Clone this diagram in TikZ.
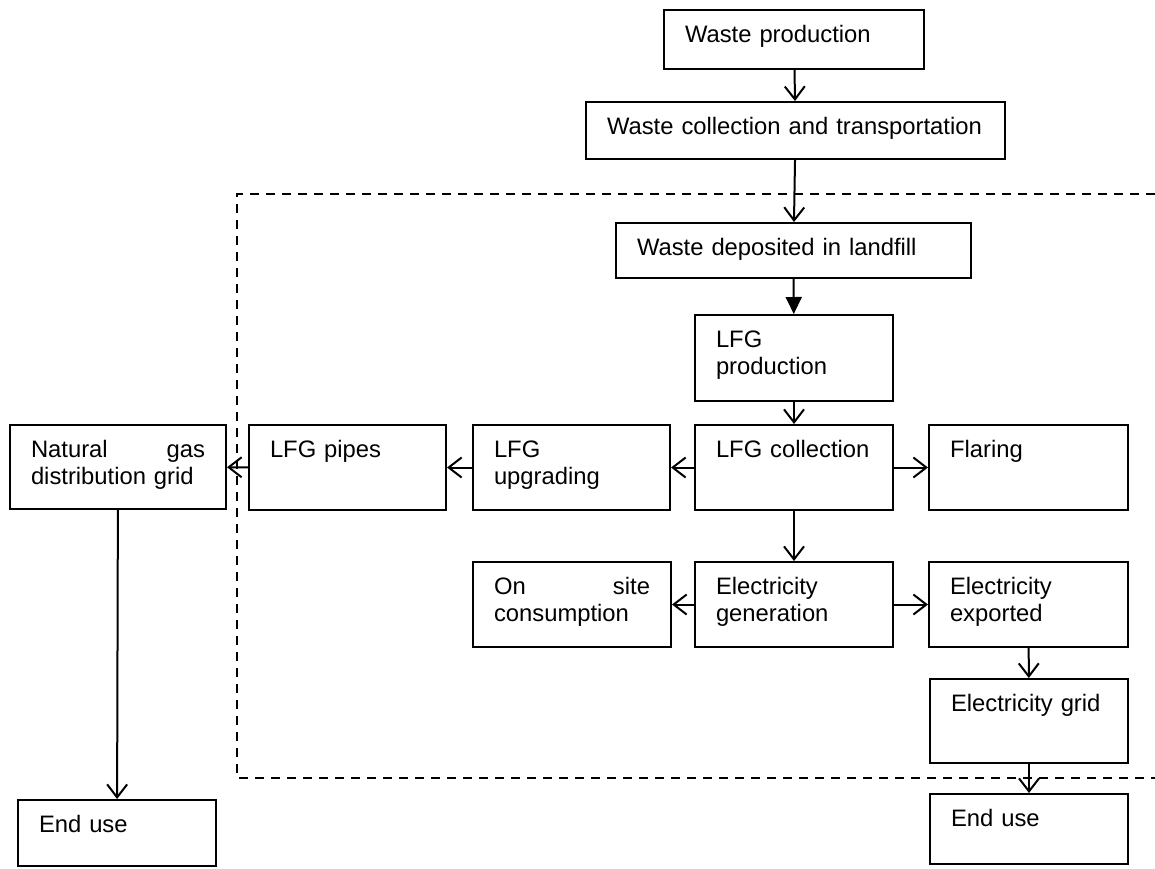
\documentclass[tikz,border=0pt]{standalone}
\usepackage{fontspec}
\setmainfont{Liberation Sans}
\usetikzlibrary{arrows.meta}

\begin{document}
\begin{tikzpicture}[x=1pt, y=-1pt, >={Straight Barb[length=13pt,width=20pt]},
    font=\fontsize{23.8}{27.4}\selectfont]
  \tikzset{
    box/.style 2 args={draw, line width=2pt, anchor=north west, align=left,
      inner xsep=21pt, inner ysep=0pt, text height=32pt,
      text width=#1, text depth=#2},
    link/.style={line width=2pt, ->},
    frame/.style={line width=2pt, dash pattern=on 9pt off 7pt}
  }
  \useasboundingbox (0,0) rectangle (1155,868);

  \node[box={218pt}{27pt}] (wprod) at (663,9) {Waste production};
  \node[box={377pt}{25pt}] (wcoll) at (585,101) {Waste collection and transportation};
  \node[box={313pt}{23pt}] (wdep) at (615,222) {Waste deposited in landfill};
  \node[box={156pt}{54pt}] (lfgprod) at (694,314) {LFG\\production};

  \node[box={156pt}{53pt}] (lfgcoll) at (694,424) {LFG collection};
  \node[box={157pt}{53pt}] (flaring) at (928,424) {Flaring};
  \node[box={155pt}{53pt}] (upgrade) at (472,424) {LFG\\upgrading};
  \node[box={155pt}{53pt}] (pipes) at (248,424) {LFG pipes};
  \node[box={174pt}{52pt}] (natgas) at (9,424) {Natural\hfill gas\\distribution grid};

  \node[box={156pt}{53pt}] (elgen) at (694,561) {Electricity\\generation};
  \node[box={156pt}{53pt}] (onsite) at (472,561) {On\hfill site\\consumption};
  \node[box={157pt}{53pt}] (elexp) at (928,561) {Electricity\\exported};
  \node[box={156pt}{52pt}] (elgrid) at (929,678) {Electricity grid};

  \node[box={156pt}{38pt}] (use2) at (929,793) {End use};
  \node[box={156pt}{34pt}] (use1) at (17,799) {End use};

  \draw[frame] (1155,194) -| (237,778) -- (1155,778);

  \path[link] (wprod) edge (wcoll);
  \path[link] (wcoll) edge (wdep);
  \path[line width=2pt, -{Triangle[length=17pt,width=16pt]}] (wdep) edge (lfgprod);
  \path[link] (lfgprod) edge (lfgcoll);

  \path[link] (lfgcoll) edge (flaring);
  \path[link] (lfgcoll) edge (upgrade);
  \path[link] (upgrade) edge (pipes);
  \path[link] (pipes) edge (natgas);
  \path[link] (natgas) edge (use1);

  \path[link] (lfgcoll) edge (elgen);
  \path[link] (elgen) edge (onsite);
  \path[link] (elgen) edge (elexp);
  \path[link] (elexp) edge (elgrid);
  \path[link] (elgrid) edge (use2);

\end{tikzpicture}
\end{document}
